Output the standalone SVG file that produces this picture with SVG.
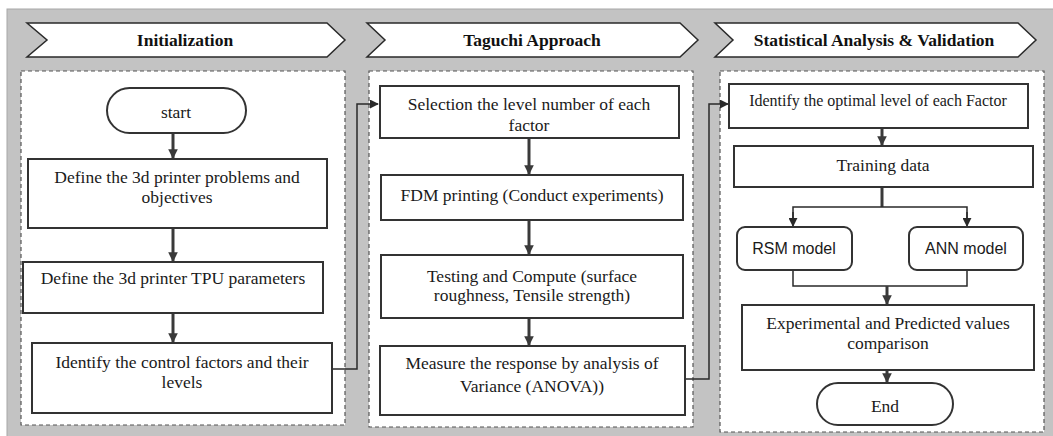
<svg xmlns="http://www.w3.org/2000/svg" width="1053" height="436" viewBox="0 0 1053 436">
<defs>
<style>
.bg{fill:#c3c3c3;stroke:#a8a8a8;stroke-width:1}
.banner{fill:#fff;stroke:#2a2a2a;stroke-width:1.5}
.panel{fill:#fff;stroke:#555;stroke-width:1.2;stroke-dasharray:4 3}
.box{fill:#fff;stroke:#333;stroke-width:2}
.t{font-family:"Liberation Serif","Times New Roman",serif;font-size:17.5px;fill:#1a1a1a;text-anchor:middle}
.h{font-family:"Liberation Serif","Times New Roman",serif;font-size:17.5px;font-weight:bold;fill:#111;text-anchor:middle}
.s{font-family:"Liberation Sans",Arial,sans-serif;font-size:16px;fill:#1a1a1a;text-anchor:middle}
.c{fill:none;stroke:#3a3a3a;stroke-width:3}
.cl{fill:none;stroke:#2a2a2a;stroke-width:1.5}
</style>
<marker id="ah" viewBox="0 0 10 10" refX="9" refY="5" markerWidth="3.2" markerHeight="3.2" orient="auto" markerUnits="strokeWidth">
<path d="M0,0 L10,5 L0,10 z" fill="#3a3a3a"/>
</marker>
<marker id="ahs" viewBox="0 0 10 10" refX="9" refY="5" markerWidth="6" markerHeight="6" orient="auto" markerUnits="strokeWidth">
<path d="M0,0 L10,5 L0,10 z" fill="#2a2a2a"/>
</marker>
</defs>
<rect class="bg" x="7" y="9" width="1050" height="432"/>

<g id="banner1"><path class="banner" d="M27,23 L327,23 L345,40 L327,57 L27,57 L47,40 Z"/><text class="h" x="185" y="46">Initialization</text></g>
<g id="banner2"><path class="banner" d="M367,23 L680,23 L698,40 L680,57 L367,57 L385,40 Z"/><text class="h" x="532" y="46">Taguchi Approach</text></g>
<g id="banner3"><path class="banner" d="M715,23 L1018,23 L1036,40 L1018,57 L715,57 L733,40 Z"/><text class="h" x="874" y="46">Statistical Analysis &amp; Validation</text></g>

<g id="panel1"><rect class="panel" x="21" y="71" width="324" height="354"/></g>
<g id="panel2"><rect class="panel" x="369" y="71" width="324" height="356"/></g>
<g id="panel3"><rect class="panel" x="720" y="71" width="324" height="361"/></g>

<g id="connectors">
<line class="c" x1="173" y1="133" x2="173" y2="158" marker-end="url(#ah)"/>
<line class="c" x1="173" y1="228" x2="173" y2="261" marker-end="url(#ah)"/>
<line class="c" x1="173" y1="313" x2="173" y2="342" marker-end="url(#ah)"/>
<polyline class="cl" points="332,369 357,369 357,104 378,104" marker-end="url(#ahs)"/>
<line class="c" x1="529" y1="138" x2="529" y2="174" marker-end="url(#ah)"/>
<line class="c" x1="529" y1="220" x2="529" y2="254" marker-end="url(#ah)"/>
<line class="c" x1="529" y1="318" x2="529" y2="345" marker-end="url(#ah)"/>
<polyline class="cl" points="685,379 709,379 709,104 728,104" marker-end="url(#ahs)"/>
<line class="c" x1="882" y1="128" x2="882" y2="145" marker-end="url(#ah)"/>
<line class="c" x1="882" y1="187" x2="882" y2="207"/>
<polyline class="cl" points="793,224 793,207 967,207 967,224"/>
<line class="cl" x1="793" y1="212" x2="793" y2="226" marker-end="url(#ahs)"/>
<line class="cl" x1="967" y1="212" x2="967" y2="226" marker-end="url(#ahs)"/>
<polyline class="cl" points="793,270 793,286 967,286 967,270"/>
<line class="c" x1="887" y1="286" x2="887" y2="304" marker-end="url(#ah)"/>
<line class="c" x1="887" y1="370" x2="887" y2="382" marker-end="url(#ah)"/>
</g>

<g id="start"><rect class="box" x="107" y="88" width="139" height="45" rx="22.5"/><text class="t" x="176" y="118">start</text></g>
<g id="define-problems"><rect class="box" x="28" y="159" width="299" height="69"/><text class="t" x="177" y="183">Define the 3d printer problems and</text><text class="t" x="177" y="203">objectives</text></g>
<g id="define-tpu"><rect class="box" x="23" y="262" width="300" height="51"/><text class="t" x="173" y="284">Define the 3d printer TPU parameters</text></g>
<g id="identify-factors"><rect class="box" x="32" y="343" width="300" height="70"/><text class="t" x="182" y="368">Identify the control factors and their</text><text class="t" x="182" y="388">levels</text></g>

<g id="selection"><rect class="box" x="380" y="86" width="299" height="52"/><text class="t" x="529" y="110">Selection the level number of each</text><text class="t" x="529" y="131">factor</text></g>
<g id="fdm"><rect class="box" x="381" y="175" width="302" height="45"/><text class="t" x="532" y="201">FDM printing (Conduct experiments)</text></g>
<g id="testing"><rect class="box" x="381" y="255" width="302" height="63"/><text class="t" x="532" y="282">Testing and Compute (surface</text><text class="t" x="532" y="301">roughness, Tensile strength)</text></g>
<g id="measure"><rect class="box" x="380" y="346" width="305" height="69"/><text class="t" x="532" y="369">Measure the response by analysis of</text><text class="t" x="532" y="392">Variance (ANOVA))</text></g>

<g id="optimal"><rect class="box" x="729" y="84" width="299" height="44"/><text class="t" style="font-size:16px" x="878" y="106">Identify the optimal level  of each Factor</text></g>
<g id="training"><rect class="box" x="734" y="146" width="299" height="41"/><text class="t" x="883" y="171">Training data</text></g>
<g id="rsm"><rect class="box" x="737" y="227" width="115" height="43" rx="8"/><text class="s" x="794" y="254">RSM model</text></g>
<g id="ann"><rect class="box" x="909" y="227" width="114" height="43" rx="8"/><text class="s" x="966" y="254">ANN model</text></g>
<g id="comparison"><rect class="box" x="742" y="305" width="292" height="65"/><text class="t" x="888" y="329">Experimental and Predicted values</text><text class="t" x="888" y="349">comparison</text></g>
<g id="end"><rect class="box" x="817" y="383" width="136" height="42" rx="21"/><text class="t" x="885" y="412">End</text></g>
</svg>
